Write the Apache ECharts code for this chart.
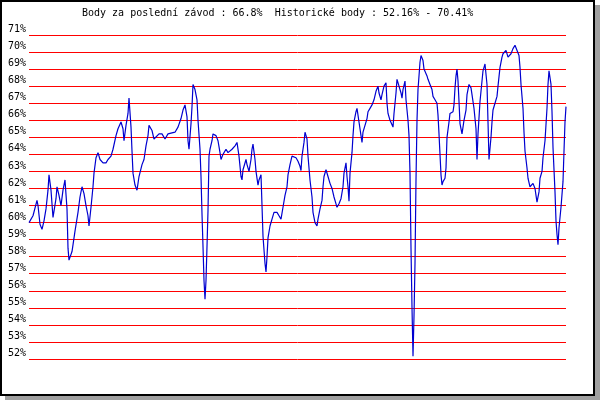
<!DOCTYPE html>
<html><head><meta charset="utf-8">
<script src="https://cdn.jsdelivr.net/npm/echarts@6/dist/echarts.min.js"></script>
<style>
html,body{margin:0;padding:0;background:#fff;}
#wrap{position:relative;width:600px;height:400px;overflow:hidden;background:#fff;}
#shadow{position:absolute;left:5px;top:5px;width:595px;height:395px;background:#a0a0a0;}
#frame{position:absolute;left:0;top:0;width:591px;height:392px;border:2px solid #000;background:#fff;}
#chart{position:absolute;left:0;top:0;width:600px;height:400px;}
</style></head>
<body><div id="wrap"><div id="shadow"></div><div id="frame"></div><div id="chart"></div></div>
<script>
const titleText = 'Body za poslední závod : 66.8%  Historické body : 52.16% - 70.41%';
const yMin = 52, yMax = 71, yStep = 1;
const race = [0,4,8,9,11,13,15,17,19,20,22,24,27,28,30,32,34,36,38,39,40,43,46,49,51,53,55,57,59,60,62,64,65,67,69,71,74,77,79,82,84,87,89,92,94,95,97,99,100,102,103,104,106,108,110,113,115,117,119,120,123,125,127,130,133,136,139,146,149,152,154,156,158,159,160,162,163,164,166,168,169,171,172,173,174,175,176,177,178,179,180,181,183,184,187,189,191,192,194,197,199,203,206,208,210,212,213,214,217,218,220,222,223,224,226,227,229,230,232,233,234,236,237,238,239,241,243,245,248,250,252,254,256,258,259,261,263,264,267,269,271,272,273,275,276,278,279,281,283,284,286,288,289,291,293,294,295,297,299,301,303,305,307,308,310,312,314,315,317,318,319,320,321,323,324,325,327,328,330,332,333,334,336,338,339,341,343,345,347,349,350,352,353,355,357,358,359,361,363,364,365,367,368,370,372,373,374,376,377,379,380,381,382,383,384,385,386,387,388,389,390,391,392,394,395,398,399,401,403,404,406,408,409,410,411,412,413,414,416,417,418,420,421,424,425,426,427,428,429,430,431,433,434,435,437,438,440,442,443,445,447,448,449,451,453,454,456,458,459,460,462,463,464,466,468,469,471,473,474,477,479,482,484,486,488,490,491,492,494,495,496,498,499,501,503,504,506,507,508,510,511,513,514,516,518,519,520,522,523,524,526,527,528,529,530,532,534,535,536,537];
const score = [60.0,60.4,61.3,61.0,59.9,59.6,60.1,60.8,61.9,62.8,61.9,60.3,61.4,62.1,61.6,61.0,61.9,62.5,60.8,58.5,57.8,58.3,59.5,60.6,61.5,62.1,61.7,61.0,60.4,59.8,60.9,62.1,62.9,63.8,64.1,63.7,63.5,63.5,63.7,63.9,64.3,65.1,65.5,65.9,65.5,64.8,65.7,66.4,67.3,65.6,64.2,62.9,62.2,61.9,62.7,63.4,63.7,64.5,65.1,65.7,65.4,64.9,65.0,65.2,65.2,64.9,65.2,65.3,65.6,66.1,66.6,66.9,66.2,64.8,64.3,65.8,66.8,68.1,67.8,67.2,66.0,64.3,62.7,60.5,58.6,56.6,55.5,56.6,58.6,60.7,63.9,64.3,64.8,65.2,65.1,64.8,64.1,63.7,64.0,64.3,64.1,64.3,64.5,64.7,63.9,62.7,62.5,63.1,63.7,63.4,63.0,63.7,64.3,64.6,63.7,63.0,62.2,62.5,62.8,61.0,59.2,57.6,57.1,58.0,59.1,59.8,60.2,60.6,60.6,60.4,60.2,60.9,61.6,62.1,62.8,63.4,63.9,64.0,63.8,63.6,63.3,63.05,63.9,64.7,65.3,64.9,63.9,62.5,61.5,60.6,60.0,59.8,60.2,60.8,61.3,62.1,62.7,63.1,62.7,62.3,62.0,61.5,61.1,60.9,61.1,61.4,62.1,62.9,63.5,62.7,62.1,61.25,62.9,64.1,65.1,65.9,66.5,66.7,65.9,65.1,64.7,65.3,65.7,66.1,66.5,66.7,66.9,67.2,67.7,68.0,67.6,67.2,67.5,68.0,68.2,67.0,66.4,66.0,65.9,65.6,66.4,67.6,68.4,68.0,67.6,67.3,67.8,68.3,67.2,66.0,65.1,62.9,58.5,55.0,52.16,54.5,57.6,62.5,66.0,67.8,68.6,69.4,69.8,69.5,69.0,68.6,68.4,68.1,67.8,67.4,67.2,67.0,66.3,65.2,64.0,62.8,62.2,62.4,62.6,63.2,65.0,65.9,66.4,66.5,66.9,67.9,68.6,69.0,68.3,67.1,65.8,65.2,65.6,66.0,66.6,67.5,68.1,67.9,67.5,66.7,65.5,63.7,65.2,67.1,68.3,68.9,69.3,68.1,65.9,63.7,65.0,65.9,66.6,67.0,67.4,68.0,69.1,69.7,69.9,70.1,69.7,69.9,70.2,70.4,70.41,69.8,69.1,68.1,66.7,65.3,64.2,63.2,62.6,62.1,62.2,62.3,62.0,61.6,61.2,61.8,62.6,63.0,63.8,64.8,66.7,68.1,68.9,68.1,66.5,64.4,61.8,60.1,59.3,58.7,59.7,60.9,62.4,64.2,65.9,66.8];

const points = race.map((r, i) => [r, score[i]]);
const font = '"DejaVu Sans Mono", "Liberation Mono", monospace';
const chart = echarts.init(document.getElementById('chart'), null, {renderer: 'canvas'});
chart.setOption({
  animation: false,
  backgroundColor: 'transparent',
  title: {
    text: titleText, left: 82, top: 8, padding: 0,
    textStyle: {fontFamily: font, fontSize: 10, fontWeight: 'normal', color: '#000'}
  },
  grid: {left: 29, right: 34, top: 35, bottom: 41, containLabel: false},
  xAxis: {
    type: 'value', min: race[0], max: race[race.length - 1],
    show: false, splitLine: {show: false}
  },
  yAxis: {
    type: 'value', min: yMin, max: yMax, interval: yStep,
    axisLine: {show: false}, axisTick: {show: false},
    axisLabel: {
      formatter: '{value}%', color: '#000', fontFamily: font, fontSize: 10,
      margin: 3, verticalAlign: 'bottom', lineHeight: 11
    },
    splitLine: {show: true, lineStyle: {color: '#ff0000', width: 1}}
  },
  series: [{
    type: 'line', data: points, showSymbol: false, smooth: false,
    lineStyle: {color: '#0000d0', width: 1.2}, itemStyle: {color: '#0000d0'}
  }]
});
</script></body></html>
